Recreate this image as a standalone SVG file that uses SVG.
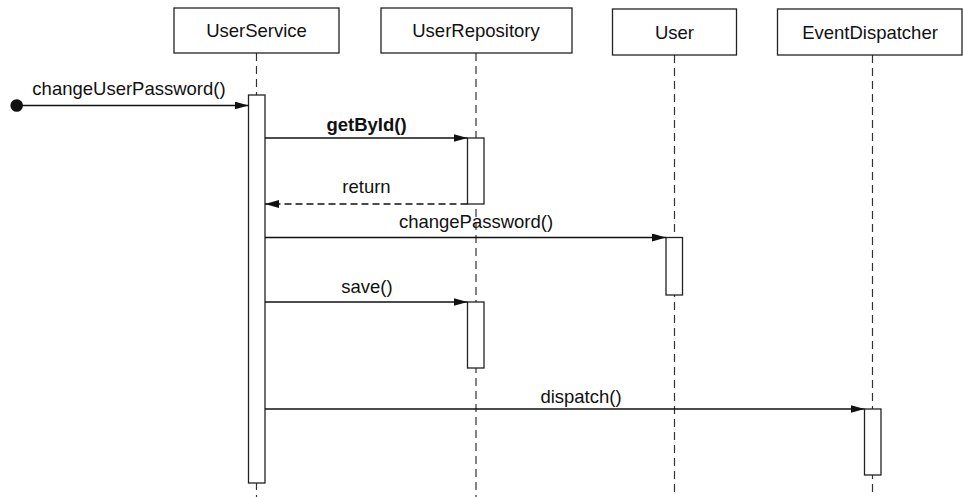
<svg xmlns="http://www.w3.org/2000/svg" width="963" height="497" viewBox="0 0 963 497">
<style>
.box{fill:#fff;stroke:#222;stroke-width:1.3}
.life{stroke:#333;stroke-width:1.2;stroke-dasharray:8 5;fill:none}
.act{fill:#fff;stroke:#222;stroke-width:1.3}
.msg{stroke:#111;stroke-width:1.3;fill:none}
.ret{stroke:#111;stroke-width:1.3;fill:none;stroke-dasharray:7 4}
text{font-family:"Liberation Sans",Arial,sans-serif;font-size:18.5px;fill:#111;text-anchor:middle}
.bold{font-weight:bold}
</style>
<defs>
<marker id="arr" markerUnits="userSpaceOnUse" markerWidth="14" markerHeight="8" refX="14" refY="4" orient="auto">
<path d="M0,0 L14,4 L0,8 z" fill="#111"/>
</marker>
</defs>
<g id="lifelines">
<line class="life" x1="256.5" y1="53" x2="256.5" y2="497"/>
<line class="life" x1="476" y1="53" x2="476" y2="497"/>
<line class="life" x1="674.5" y1="55" x2="674.5" y2="497"/>
<line class="life" x1="872.5" y1="55" x2="872.5" y2="497"/>
</g>
<g id="UserService">
<rect class="box" x="174" y="8" width="165" height="45"/>
<text x="256.5" y="37">UserService</text>
<rect class="act" x="248.5" y="95" width="16.5" height="388"/>
</g>
<g id="UserRepository">
<rect class="box" x="381" y="8" width="191" height="45"/>
<text x="476" y="37">UserRepository</text>
<rect class="act" x="467.5" y="138" width="16.5" height="66"/>
<rect class="act" x="467.5" y="302" width="16.5" height="66"/>
</g>
<g id="User">
<rect class="box" x="612.5" y="9" width="124" height="46"/>
<text x="674.5" y="39">User</text>
<rect class="act" x="666" y="237.5" width="16.5" height="57.5"/>
</g>
<g id="EventDispatcher">
<rect class="box" x="777.5" y="9" width="184.5" height="46"/>
<text x="870" y="39">EventDispatcher</text>
<rect class="act" x="864.5" y="409" width="16.5" height="66"/>
</g>
<g id="connectors">
<circle cx="16.7" cy="105.5" r="6.3" fill="#111"/>
<line class="msg" x1="17" y1="105.5" x2="248.5" y2="105.5" marker-end="url(#arr)"/>
<text x="129" y="95">changeUserPassword()</text>
<line class="msg" x1="265" y1="138" x2="467.5" y2="138" marker-end="url(#arr)"/>
<text class="bold" x="366.5" y="131">getById()</text>
<line class="ret" x1="467.5" y1="204" x2="265" y2="204" marker-end="url(#arr)"/>
<text x="366.5" y="193">return</text>
<line class="msg" x1="265" y1="237.5" x2="666" y2="237.5" marker-end="url(#arr)"/>
<text x="476" y="227.5">changePassword()</text>
<line class="msg" x1="265" y1="302" x2="467.5" y2="302" marker-end="url(#arr)"/>
<text x="367" y="293">save()</text>
<line class="msg" x1="265" y1="409" x2="864.5" y2="409" marker-end="url(#arr)"/>
<text x="581" y="403">dispatch()</text>
</g>
</svg>
